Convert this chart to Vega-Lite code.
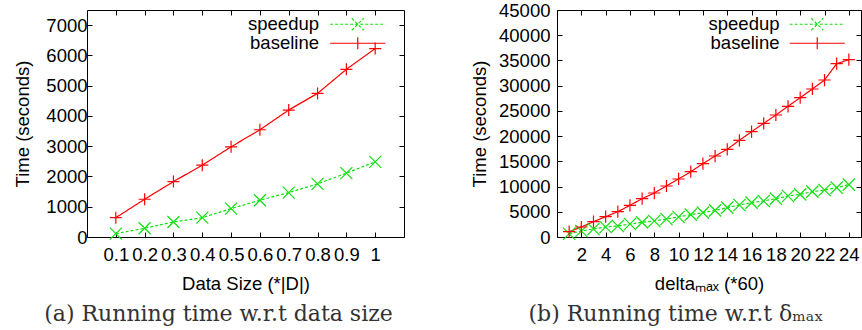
{
  "$schema": "https://vega.github.io/schema/vega-lite/v6.json",
  "background": "white",
  "padding": {"left": 13, "top": 0, "right": 0, "bottom": 0},
  "bounds": "flush",
  "spacing": 153,
  "resolve": {"scale": {"color": "independent", "strokeDash": "independent"}, "legend": {"color": "independent", "strokeDash": "independent"}},
  "config": {
    "font": "Liberation Sans",
    "view": {"stroke": "black", "strokeWidth": 1},
    "axis": {
      "grid": false, "domain": false, "tickColor": "black", "tickSize": -5, "tickWidth": 1,
      "labelFont": "Liberation Sans", "labelFontSize": 18.5, "labelColor": "black",
      "titleFont": "Liberation Sans", "titleFontSize": 18.5, "titleFontWeight": "normal", "titleColor": "black"
    },
    "axisBottom": {"labelPadding": 13, "titlePadding": 11},
    "title": {"font": "DejaVu Serif", "fontSize": 22, "fontWeight": "normal", "color": "#333333", "orient": "bottom", "anchor": "middle", "offset": 11},
    "legend": {
      "orient": "none", "title": null, "labelAlign": "right", "labelFont": "Liberation Sans", "labelFontSize": 18.5, "labelColor": "black",
      "padding": 0, "rowPadding": 0, "symbolSize": 144, "symbolStrokeWidth": 1.2
    }
  },
  "hconcat": [
    {
      "width": 317, "height": 227,
      "title": {"text": "(a) Running time w.r.t data size", "dx": -27},
      "data": {"values": [
        {"size": 0.1, "time": 110, "series": "speedup"},
        {"size": 0.2, "time": 288, "series": "speedup"},
        {"size": 0.3, "time": 497, "series": "speedup"},
        {"size": 0.4, "time": 640, "series": "speedup"},
        {"size": 0.5, "time": 937, "series": "speedup"},
        {"size": 0.6, "time": 1215, "series": "speedup"},
        {"size": 0.7, "time": 1467, "series": "speedup"},
        {"size": 0.8, "time": 1755, "series": "speedup"},
        {"size": 0.9, "time": 2109, "series": "speedup"},
        {"size": 1.0, "time": 2483, "series": "speedup"},
        {"size": 0.1, "time": 640, "series": "baseline"},
        {"size": 0.2, "time": 1248, "series": "baseline"},
        {"size": 0.3, "time": 1831, "series": "baseline"},
        {"size": 0.4, "time": 2374, "series": "baseline"},
        {"size": 0.5, "time": 2980, "series": "baseline"},
        {"size": 0.6, "time": 3543, "series": "baseline"},
        {"size": 0.7, "time": 4195, "series": "baseline"},
        {"size": 0.8, "time": 4745, "series": "baseline"},
        {"size": 0.9, "time": 5540, "series": "baseline"},
        {"size": 1.0, "time": 6225, "series": "baseline"}
      ]},
      "layer": [
        {
          "mark": {"type": "line", "strokeWidth": 1.2},
          "encoding": {
            "x": {"field": "size", "type": "quantitative", "scale": {"domain": [0, 1.1], "nice": false, "zero": false},
                  "axis": {"values": [0.1, 0.2, 0.3, 0.4, 0.5, 0.6, 0.7, 0.8, 0.9, 1], "format": ".1~f", "title": "Data Size (*|D|)"}},
            "y": {"field": "time", "type": "quantitative", "scale": {"domain": [0, 7500], "nice": false},
                  "axis": {"values": [0, 1000, 2000, 3000, 4000, 5000, 6000, 7000], "format": "d", "title": "Time (seconds)", "labelPadding": 5, "titlePadding": 13}},
            "color": {"field": "series", "type": "nominal", "scale": {"domain": ["speedup", "baseline"], "range": ["#10e010", "#ff0000"]},
                      "legend": {"legendX": 261.5, "legendY": 5, "labelOffset": -48,
                                 "encode": {"symbols": {"update": {
                                   "shape": {"signal": "datum.value === 'speedup' ? 'M-4.6,0H4.6M-1,-1L1,1M-1,1L1,-1' : 'M-4.6,0H4.6M0,-1V1'"},
                                   "strokeDash": {"signal": "datum.value === 'speedup' ? [3,2] : [1,0]"},
                                   "fill": {"value": "transparent"}}}}}},
            "strokeDash": {"field": "series", "type": "nominal", "scale": {"domain": ["speedup", "baseline"], "range": [[3, 2], [1, 0]]}, "legend": null}
          }
        },
        {
          "transform": [{"filter": "datum.series === 'speedup'"}],
          "mark": {"type": "point", "shape": "M-1,-1L1,1M-1,1L1,-1", "filled": false, "size": 144, "strokeWidth": 1.2, "opacity": 1},
          "encoding": {
            "x": {"field": "size", "type": "quantitative", "axis": {"orient": "top", "values": [0.1, 0.2, 0.3, 0.4, 0.5, 0.6, 0.7, 0.8, 0.9, 1], "labels": false, "title": null}},
            "y": {"field": "time", "type": "quantitative", "axis": {"orient": "right", "values": [0, 1000, 2000, 3000, 4000, 5000, 6000, 7000], "labels": false, "title": null}},
            "color": {"field": "series", "type": "nominal"}
          }
        },
        {
          "transform": [{"filter": "datum.series === 'baseline'"}],
          "mark": {"type": "point", "shape": "M-1,0H1M0,-1V1", "filled": false, "size": 144, "strokeWidth": 1.2, "opacity": 1},
          "encoding": {
            "x": {"field": "size", "type": "quantitative", "axis": null},
            "y": {"field": "time", "type": "quantitative", "axis": null},
            "color": {"field": "series", "type": "nominal"}
          }
        }
      ],
      "resolve": {"axis": {"x": "independent", "y": "independent"}}
    },
    {
      "width": 304, "height": 227,
      "title": {"text": "(b) Running time w.r.t δₘₐₓ", "dx": -33},
      "data": {"values": [
        {"delta": 1, "time": 650, "series": "speedup"},
        {"delta": 2, "time": 1190, "series": "speedup"},
        {"delta": 3, "time": 1586, "series": "speedup"},
        {"delta": 4, "time": 1982, "series": "speedup"},
        {"delta": 5, "time": 2180, "series": "speedup"},
        {"delta": 6, "time": 2577, "series": "speedup"},
        {"delta": 7, "time": 2907, "series": "speedup"},
        {"delta": 8, "time": 3172, "series": "speedup"},
        {"delta": 9, "time": 3568, "series": "speedup"},
        {"delta": 10, "time": 3965, "series": "speedup"},
        {"delta": 11, "time": 4427, "series": "speedup"},
        {"delta": 12, "time": 4823, "series": "speedup"},
        {"delta": 13, "time": 5286, "series": "speedup"},
        {"delta": 14, "time": 5815, "series": "speedup"},
        {"delta": 15, "time": 6344, "series": "speedup"},
        {"delta": 16, "time": 6806, "series": "speedup"},
        {"delta": 17, "time": 7137, "series": "speedup"},
        {"delta": 18, "time": 7599, "series": "speedup"},
        {"delta": 19, "time": 8128, "series": "speedup"},
        {"delta": 20, "time": 8458, "series": "speedup"},
        {"delta": 21, "time": 8987, "series": "speedup"},
        {"delta": 22, "time": 9317, "series": "speedup"},
        {"delta": 23, "time": 9780, "series": "speedup"},
        {"delta": 24, "time": 10374, "series": "speedup"},
        {"delta": 1, "time": 1050, "series": "baseline"},
        {"delta": 2, "time": 1982, "series": "baseline"},
        {"delta": 3, "time": 3033, "series": "baseline"},
        {"delta": 4, "time": 4024, "series": "baseline"},
        {"delta": 5, "time": 5015, "series": "baseline"},
        {"delta": 6, "time": 6284, "series": "baseline"},
        {"delta": 7, "time": 7593, "series": "baseline"},
        {"delta": 8, "time": 8722, "series": "baseline"},
        {"delta": 9, "time": 10110, "series": "baseline"},
        {"delta": 10, "time": 11498, "series": "baseline"},
        {"delta": 11, "time": 12945, "series": "baseline"},
        {"delta": 12, "time": 14531, "series": "baseline"},
        {"delta": 13, "time": 16057, "series": "baseline"},
        {"delta": 14, "time": 17385, "series": "baseline"},
        {"delta": 15, "time": 19170, "series": "baseline"},
        {"delta": 16, "time": 20875, "series": "baseline"},
        {"delta": 17, "time": 22540, "series": "baseline"},
        {"delta": 18, "time": 24185, "series": "baseline"},
        {"delta": 19, "time": 25910, "series": "baseline"},
        {"delta": 20, "time": 27615, "series": "baseline"},
        {"delta": 21, "time": 29340, "series": "baseline"},
        {"delta": 22, "time": 31123, "series": "baseline"},
        {"delta": 23, "time": 34355, "series": "baseline"},
        {"delta": 24, "time": 35150, "series": "baseline"}
      ]},
      "layer": [
        {
          "mark": {"type": "line", "strokeWidth": 1.2},
          "encoding": {
            "x": {"field": "delta", "type": "quantitative", "scale": {"domain": [0, 25], "nice": false},
                  "axis": {"values": [2, 4, 6, 8, 10, 12, 14, 16, 18, 20, 22, 24], "format": "d", "title": "deltaₘₐₓ (*60)"}},
            "y": {"field": "time", "type": "quantitative", "scale": {"domain": [0, 45000], "nice": false},
                  "axis": {"values": [0, 5000, 10000, 15000, 20000, 25000, 30000, 35000, 40000, 45000], "format": "d", "title": "Time (seconds)", "labelPadding": 12, "titlePadding": 9}},
            "color": {"field": "series", "type": "nominal", "scale": {"domain": ["speedup", "baseline"], "range": ["#10e010", "#ff0000"]},
                      "legend": {"legendX": 251, "legendY": 5, "labelOffset": -47,
                                 "encode": {"symbols": {"update": {
                                   "shape": {"signal": "datum.value === 'speedup' ? 'M-4.6,0H4.6M-1,-1L1,1M-1,1L1,-1' : 'M-4.6,0H4.6M0,-1V1'"},
                                   "strokeDash": {"signal": "datum.value === 'speedup' ? [3,2] : [1,0]"},
                                   "fill": {"value": "transparent"}}}}}},
            "strokeDash": {"field": "series", "type": "nominal", "scale": {"domain": ["speedup", "baseline"], "range": [[3, 2], [1, 0]]}, "legend": null}
          }
        },
        {
          "transform": [{"filter": "datum.series === 'speedup'"}],
          "mark": {"type": "point", "shape": "M-1,-1L1,1M-1,1L1,-1", "filled": false, "size": 150, "strokeWidth": 1.2, "opacity": 1},
          "encoding": {
            "x": {"field": "delta", "type": "quantitative", "axis": {"orient": "top", "values": [2, 4, 6, 8, 10, 12, 14, 16, 18, 20, 22, 24], "labels": false, "title": null}},
            "y": {"field": "time", "type": "quantitative", "axis": {"orient": "right", "values": [0, 5000, 10000, 15000, 20000, 25000, 30000, 35000, 40000, 45000], "labels": false, "title": null}},
            "color": {"field": "series", "type": "nominal"}
          }
        },
        {
          "transform": [{"filter": "datum.series === 'baseline'"}],
          "mark": {"type": "point", "shape": "M-1,0H1M0,-1V1", "filled": false, "size": 150, "strokeWidth": 1.2, "opacity": 1},
          "encoding": {
            "x": {"field": "delta", "type": "quantitative", "axis": null},
            "y": {"field": "time", "type": "quantitative", "axis": null},
            "color": {"field": "series", "type": "nominal"}
          }
        }
      ],
      "resolve": {"axis": {"x": "independent", "y": "independent"}}
    }
  ]
}
